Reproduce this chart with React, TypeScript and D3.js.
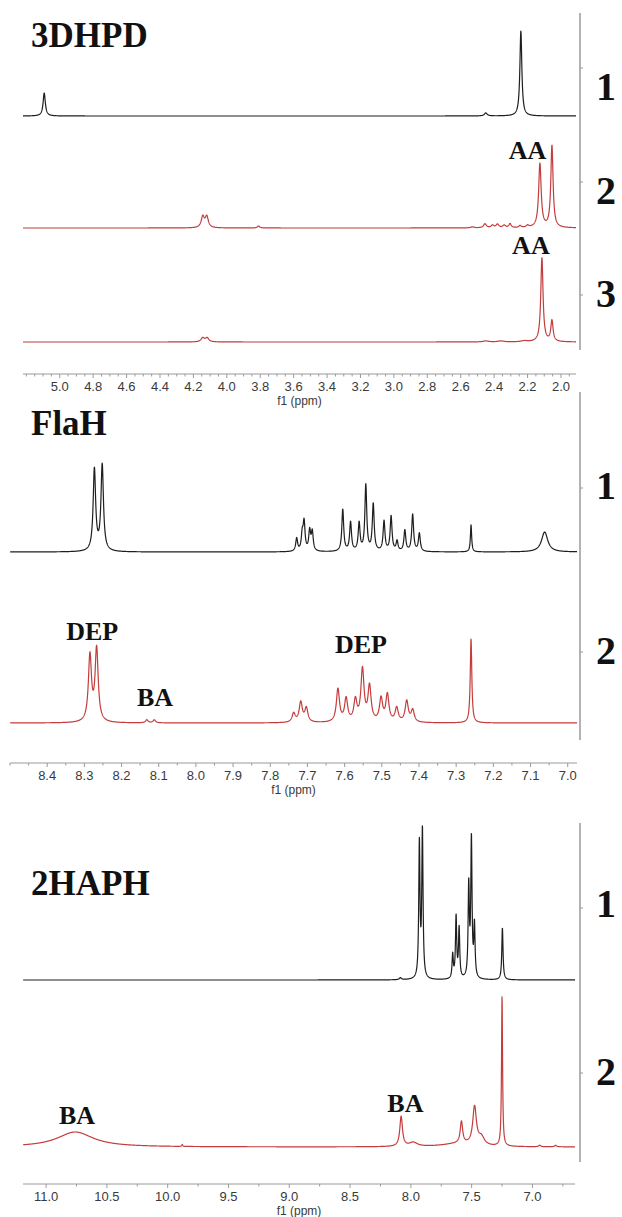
import React from 'react';
import * as d3 from 'd3';

type Peak = [number, number, number]; // [ppm, height, half width at half height (ppm)]

/* ──────────  3DHPD  ────────── */
const hpdTickLabels = ['5.0', '4.8', '4.6', '4.4', '4.2', '4.0', '3.8', '3.6', '3.4', '3.2', '3.0', '2.8', '2.6', '2.4', '2.2', '2.0'];
const hpdSpec1: Peak[] = [[5.093, 23, 0.008], [2.45, 3, 0.01], [2.24, 85, 0.007]];
const hpdSpec2: Peak[] = [
  [4.144, 11, 0.011], [4.12, 11, 0.011], [3.81, 2, 0.008],
  [2.53, 1, 0.012], [2.455, 4, 0.01], [2.41, 2.5, 0.01], [2.38, 3.5, 0.01], [2.34, 2.5, 0.01],
  [2.305, 4, 0.008], [2.245, 2, 0.008], [2.2, 2, 0.01],
  [2.126, 64, 0.009], [2.054, 82, 0.008]
];
const hpdSpec3: Peak[] = [
  [4.144, 4, 0.012], [4.118, 4, 0.012], [2.45, 1, 0.02], [2.36, 1, 0.02], [2.22, 1, 0.02],
  [2.114, 84, 0.008], [2.054, 21, 0.008]
];

/* ──────────  FlaH  ────────── */
const flaTickLabels = ['8.4', '8.3', '8.2', '8.1', '8.0', '7.9', '7.8', '7.7', '7.6', '7.5', '7.4', '7.3', '7.2', '7.1', '7.0'];
const flaSpec1: Peak[] = [
  [8.273, 82, 0.004], [8.252, 86, 0.004],
  [7.729, 13, 0.003], [7.714, 16, 0.003], [7.709, 28, 0.003], [7.694, 20, 0.003], [7.687, 19, 0.003],
  [7.605, 42, 0.003], [7.584, 29, 0.003], [7.561, 28, 0.003], [7.543, 66, 0.003], [7.523, 47, 0.003],
  [7.494, 30, 0.003], [7.475, 35, 0.003], [7.459, 10, 0.003], [7.438, 21, 0.003], [7.417, 37, 0.003],
  [7.399, 18, 0.003],
  [7.26, 27, 0.002], [7.062, 20, 0.01]
];
const flaSpec2: Peak[] = [
  [8.285, 66, 0.005], [8.267, 73, 0.005],
  [8.132, 3, 0.004], [8.112, 3, 0.004],
  [7.737, 9, 0.005], [7.718, 20, 0.005], [7.703, 14, 0.005],
  [7.618, 33, 0.005], [7.596, 23, 0.005], [7.571, 21, 0.005], [7.552, 52, 0.005], [7.533, 35, 0.005],
  [7.502, 23, 0.005], [7.485, 27, 0.005], [7.46, 14, 0.005], [7.433, 21, 0.005], [7.417, 12, 0.005],
  [7.26, 84, 0.0025]
];

/* ──────────  2HAPH  ────────── */
const hapTickLabels = ['11.0', '10.5', '10.0', '9.5', '9.0', '8.5', '8.0', '7.5', '7.0'];
const hapSpec1: Peak[] = [
  [8.086, 2, 0.01],
  [7.93, 135, 0.006], [7.905, 148, 0.006],
  [7.656, 24, 0.006], [7.628, 62, 0.006], [7.603, 50, 0.006],
  [7.524, 92, 0.006], [7.502, 138, 0.006], [7.477, 52, 0.006],
  [7.247, 52, 0.006]
];
const hapSpec2: Peak[] = [
  [10.76, 15, 0.18], [9.88, 2, 0.004],
  [8.08, 30, 0.013], [7.98, 4, 0.04], [7.62, 3, 0.15],
  [7.584, 22, 0.012], [7.476, 38, 0.018], [7.42, 8, 0.03],
  [7.25, 150, 0.005], [6.94, 1.5, 0.01], [6.81, 1.5, 0.01]
];

/* annotations: [text, ppm, height above the trace baseline] */
const hpdNotes2: [string, number, number][] = [['AA', 2.2, 69]];
const hpdNotes3: [string, number, number][] = [['AA', 2.18, 88]];
const flaNotes2: [string, number, number][] = [['DEP', 8.279, 83], ['BA', 8.11, 17], ['DEP', 7.556, 70]];
const hapNotes2: [string, number, number][] = [['BA', 10.745, 23], ['BA', 8.045, 35]];

const BLACK = '#1e1e1e';
const RED = '#c43c3c';
const GREY = '#9a9a9a';
const SERIF = '"Liberation Serif", "Times New Roman", serif';
const SANS = '"Liberation Sans", Arial, sans-serif';

/* ──────────  layout  ────────── */
const panels = [
  {
    title: '3DHPD', titleY: 47, view: [5.22, 1.91], px: [23, 576], axisY: 374, minor: 0.05,
    labels: hpdTickLabels, vline: [13, 350],
    tracks: [
      { peaks: hpdSpec1, color: BLACK, base: 116, num: '1', numY: 100, tickY: 68, notes: [] },
      { peaks: hpdSpec2, color: RED, base: 228, num: '2', numY: 204, tickY: 182, notes: hpdNotes2 },
      { peaks: hpdSpec3, color: RED, base: 342, num: '3', numY: 307, tickY: 295, notes: hpdNotes3 }
    ]
  },
  {
    title: 'FlaH', titleY: 435, view: [8.5, 6.975], px: [10, 577], axisY: 763, minor: 0.05,
    labels: flaTickLabels, vline: [392, 740],
    tracks: [
      { peaks: flaSpec1, color: BLACK, base: 552, num: '1', numY: 499, tickY: 488, notes: [] },
      { peaks: flaSpec2, color: RED, base: 723, num: '2', numY: 664, tickY: 652, notes: flaNotes2 }
    ]
  },
  {
    title: '2HAPH', titleY: 895, view: [11.19, 6.65], px: [23, 575], axisY: 1184, minor: 0.25,
    labels: hapTickLabels, vline: [823, 1162],
    tracks: [
      { peaks: hapSpec1, color: BLACK, base: 980, num: '1', numY: 917, tickY: 908, notes: [] },
      { peaks: hapSpec2, color: RED, base: 1147, num: '2', numY: 1085, tickY: 1073, notes: hapNotes2 }
    ]
  }
];

/* sum of lorentzian lines */
const intensity = (peaks: Peak[], p: number) =>
  d3.sum(peaks, ([c, h, w]) => (h * w * w) / ((p - c) * (p - c) + w * w));

function Panel({ p }: { p: typeof panels[number] }) {
  const x = d3.scaleLinear().domain(p.view).range(p.px);
  const pxPerPpm = (p.px[1] - p.px[0]) / (p.view[0] - p.view[1]);
  const step = 1 / (pxPerPpm * 6);
  const grid = d3.range(p.view[1], p.view[0], step);

  const majors = p.labels.map(Number);
  const minors = d3
    .range(Math.ceil(p.view[1] / p.minor - 1e-6), Math.floor(p.view[0] / p.minor + 1e-6) + 1)
    .map(i => i * p.minor)
    .filter(v => !majors.some(m => Math.abs(m - v) < 1e-6));

  return (
    <g>
      <text x={31} y={p.titleY} fontFamily={SERIF} fontWeight="bold" fontSize={35} fill="#111">
        {p.title}
      </text>

      {/* right-hand stack axis */}
      <line x1={580} x2={580} y1={p.vline[0]} y2={p.vline[1]} stroke={GREY} strokeWidth={1.5} />

      {p.tracks.map((t, i) => {
        const y = d3.scaleLinear().domain([0, 100]).range([t.base, t.base - 100]);
        const line = d3
          .line<number>()
          .x(d => x(d))
          .y(d => y(intensity(t.peaks, d)));
        return (
          <g key={i}>
            <path d={line(grid) ?? ''} fill="none" stroke={t.color} strokeWidth={1.2} strokeLinejoin="round" />
            <line x1={580} x2={583} y1={t.tickY} y2={t.tickY} stroke={GREY} strokeWidth={1} />
            <text x={596} y={t.numY} fontFamily={SERIF} fontWeight="bold" fontSize={40} fill="#111">
              {t.num}
            </text>
            {t.notes.map(([txt, ppm, h], k) => (
              <text key={k} x={x(ppm)} y={y(h)} textAnchor="middle" fontFamily={SERIF} fontWeight="bold" fontSize={26} fill="#111">
                {txt}
              </text>
            ))}
          </g>
        );
      })}

      {/* ppm axis */}
      <line x1={p.px[0]} x2={p.px[1]} y1={p.axisY} y2={p.axisY} stroke={GREY} strokeWidth={1} />
      {minors.map(v => (
        <line key={'m' + v} x1={x(v)} x2={x(v)} y1={p.axisY} y2={p.axisY + 2.5} stroke={GREY} strokeWidth={1} />
      ))}
      {majors.map((v, i) => (
        <g key={'M' + i}>
          <line x1={x(v)} x2={x(v)} y1={p.axisY} y2={p.axisY + 4} stroke={GREY} strokeWidth={1} />
          <text x={x(v)} y={p.axisY + 17} textAnchor="middle" fontFamily={SANS} fontSize={13} fill="#3a3a3a">
            {p.labels[i]}
          </text>
        </g>
      ))}
      <text x={(p.px[0] + p.px[1]) / 2} y={p.axisY + 31} textAnchor="middle" fontFamily={SANS} fontSize={12} fill="#3a3a3a">
        f1 (ppm)
      </text>
    </g>
  );
}

export default function App() {
  return (
    <div style={{ position: 'absolute', left: 0, top: 0 }}>
      <svg width={622} height={1217} style={{ display: 'block', background: '#fff' }}>
        {panels.map(p => (
          <Panel key={p.title} p={p} />
        ))}
      </svg>
    </div>
  );
}
